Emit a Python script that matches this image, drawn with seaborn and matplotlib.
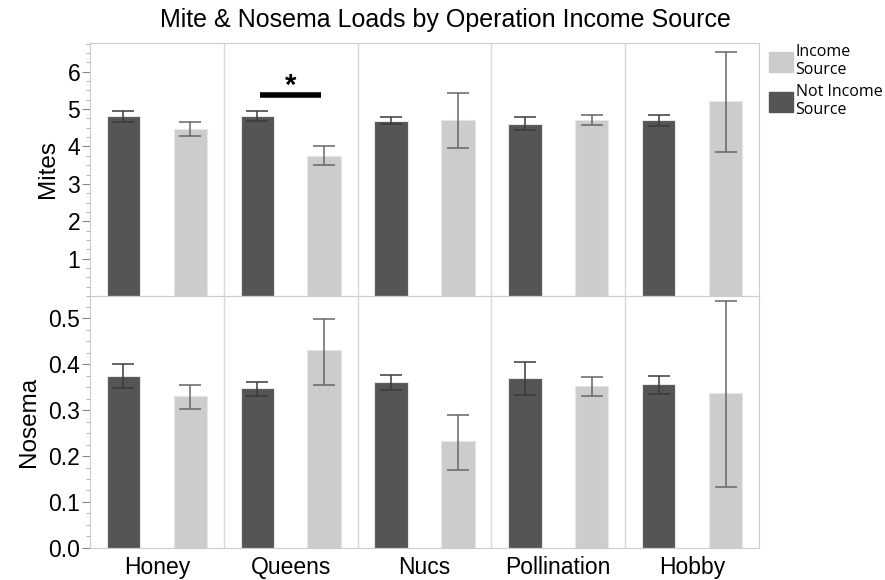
import numpy as np
import pandas as pd
import matplotlib.pyplot as plt
from matplotlib.patches import Patch
from matplotlib.ticker import MultipleLocator
import seaborn as sns

sources = ['Honey', 'Queens', 'Nucs', 'Pollination', 'Hobby']
groups = ['Not Income Source', 'Income Source']

# mean, lower, upper
mites_not = [4.82, 4.82, 4.68, 4.60, 4.72]
mites_not_lo = [4.65, 4.68, 4.60, 4.45, 4.56]
mites_not_hi = [4.95, 4.95, 4.78, 4.78, 4.83]
mites_inc = [4.48, 3.75, 4.72, 4.72, 5.21]
mites_inc_lo = [4.28, 3.50, 3.97, 4.58, 3.85]
mites_inc_hi = [4.65, 4.00, 5.42, 4.85, 6.52]

nos_not = [0.375, 0.347, 0.360, 0.370, 0.356]
nos_not_lo = [0.348, 0.330, 0.343, 0.332, 0.335]
nos_not_hi = [0.400, 0.362, 0.377, 0.405, 0.373]
nos_inc = [0.330, 0.430, 0.232, 0.352, 0.336]
nos_inc_lo = [0.303, 0.355, 0.170, 0.330, 0.133]
nos_inc_hi = [0.355, 0.497, 0.290, 0.372, 0.538]

dark = '#555555'
light = '#cccccc'
grid_c = '#d9d9d9'


def frame(vals_not, lo_not, hi_not, vals_inc, lo_inc, hi_inc):
    rows = []
    for i, s in enumerate(sources):
        rows.append((s, groups[0], vals_not[i], lo_not[i], hi_not[i]))
        rows.append((s, groups[1], vals_inc[i], lo_inc[i], hi_inc[i]))
    return pd.DataFrame(rows, columns=['source', 'group', 'value', 'lo', 'hi'])


mites = frame(mites_not, mites_not_lo, mites_not_hi, mites_inc, mites_inc_lo, mites_inc_hi)
nosema = frame(nos_not, nos_not_lo, nos_not_hi, nos_inc, nos_inc_lo, nos_inc_hi)

sns.set_style('white')
plt.rcParams['font.family'] = ['Liberation Sans', 'DejaVu Sans']
plt.rcParams['text.color'] = 'black'
plt.rcParams['axes.labelcolor'] = 'black'
plt.rcParams['xtick.color'] = 'black'
plt.rcParams['ytick.color'] = 'black'

fig = plt.figure(figsize=(8.85, 5.8), dpi=100)
ax1 = fig.add_axes([0.1017, 0.4897, 0.7559, 0.4362])
ax2 = fig.add_axes([0.1017, 0.0552, 0.7559, 0.4345])


def draw(ax, df, ylim, major, minor, ylabel):
    sns.barplot(data=df, x='source', y='value', hue='group', order=sources,
                hue_order=groups, palette=[dark, light], width=1.0, gap=0.5,
                errorbar=None, ax=ax, legend=False, edgecolor='#e6e6e6', linewidth=0.8)
    for cont, g in zip(ax.containers, groups):
        sub = df[df.group == g].set_index('source').loc[sources]
        xs = [b.get_x() + b.get_width() / 2 for b in cont]
        ecol = '#3a3a3a' if g == groups[0] else '#666666'
        ax.errorbar(xs, sub.value, yerr=[sub.value - sub.lo, sub.hi - sub.value],
                    fmt='none', ecolor=ecol, elinewidth=1.1, capsize=8, capthick=1.1, zorder=3)
    for x in np.arange(0.5, len(sources) - 0.5, 1):
        ax.axvline(x, color=grid_c, lw=1, zorder=0)
    ax.set_xlim(-0.5, len(sources) - 0.5)
    ax.set_ylim(*ylim)
    ax.yaxis.set_major_locator(MultipleLocator(major))
    ax.yaxis.set_minor_locator(MultipleLocator(minor))
    ax.tick_params(axis='y', which='major', left=True, length=6, color='#888888',
                   labelcolor='black', labelsize=16.5, pad=1)
    ax.tick_params(axis='y', which='minor', left=True, length=3, color='#aaaaaa')
    ax.tick_params(axis='x', bottom=False, labelsize=16.5, labelcolor='black', pad=2)
    for sp in ax.spines.values():
        sp.set_color('#cccccc')
    ax.set_ylabel(ylabel, fontsize=17.5, labelpad=6)
    ax.set_xlabel('')


draw(ax1, mites, (0, 6.77), 1, 0.25, 'Mites')
ax1.set_yticks([1, 2, 3, 4, 5, 6])
ax1.set_xticklabels([])
draw(ax2, nosema, (0, 0.548), 0.1, 0.025, 'Nosema')
ax2.set_yticks([0.0, 0.1, 0.2, 0.3, 0.4, 0.5])
ax2.set_yticklabels(['0.0', '0.1', '0.2', '0.3', '0.4', '0.5'])

# significance marker for Queens
ax1.plot([0.77, 1.23], [5.39, 5.39], color='black', lw=4, solid_capstyle='butt')
ax1.text(1.0, 5.62, '*', ha='center', va='center', fontsize=21, fontweight='bold')

fig.text(0.503, 0.966, 'Mite & Nosema Loads by Operation Income Source',
         ha='center', va='center', fontsize=18)

handles = [Patch(facecolor=light, edgecolor=light, label='Income\nSource'),
           Patch(facecolor=dark, edgecolor=dark, label='Not Income\nSource')]
fig.legend(handles=handles, loc='upper left', bbox_to_anchor=(0.862, 0.935),
           frameon=False, handlelength=1.5, handleheight=1.5,
           handletextpad=0.15, labelspacing=0.35, borderaxespad=0,
           prop={'family': ['Open Sans', 'DejaVu Sans'], 'size': 11.5})

fig.savefig('out.png', dpi=100)
